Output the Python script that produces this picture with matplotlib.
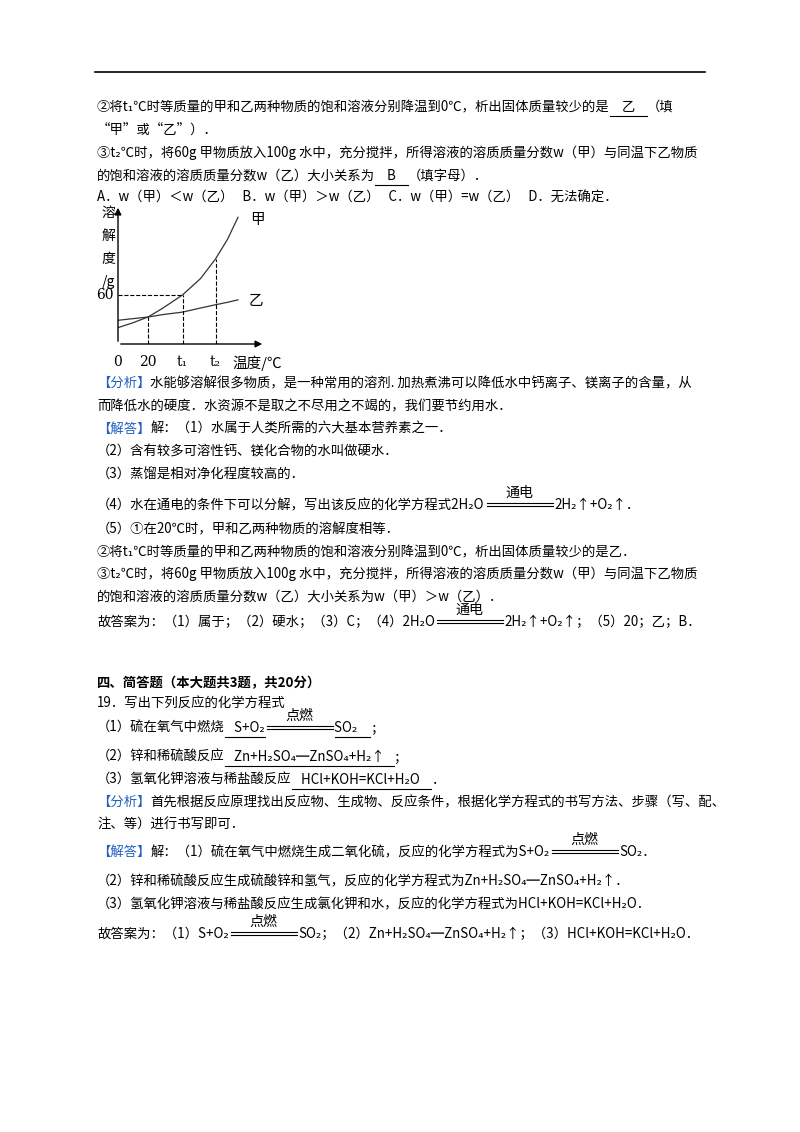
import matplotlib
matplotlib.use("Agg")
import matplotlib.pyplot as plt
from matplotlib.lines import Line2D

plt.rcParams['font.family'] = ['Noto Sans CJK SC', 'DejaVu Sans']
W, H = 800, 1132
fig = plt.figure(figsize=(8, 11.32), dpi=100)
R = fig.canvas.get_renderer()
FS = 9.6
BLUE = '#1f5fbf'

# solubility curve data (x: 0, 20, t1, t2, end)
temp = [0, 10, 20, 30, 43, 55, 65, 73, 80]
jia = [20, 26, 33, 44, 60, 80, 104, 128, 155]
yi = [29, 31, 33, 36, 39, 44, 48, 51, 54]
xticks = [0, 20, 43, 65]
xlabels = ['0', '20', 't₁', 't₂']


def fx(x):
    return x / W


def fy(y):
    return 1 - y / H


def hline(x0, x1, y, lw=0.8, c='k'):
    fig.add_artist(Line2D([fx(x0), fx(x1)], [fy(y), fy(y)], lw=lw, color=c))


def seq(x, y, parts):
    # parts: str, ('u', str) underlined, ('b', str) blue, ('c', cond) condition sign, ('B', str) bold
    for p in parts:
        if isinstance(p, str):
            kind, s = 'n', p
        else:
            kind, s = p
        if kind == 'c':
            w = 70
            hline(x + 2, x + w - 2, y - 2)
            hline(x + 2, x + w - 2, y + 1)
            fig.text(fx(x + w / 2), fy(y - 12), s, fontsize=FS + 0.5, ha='center', va='center')
            x += w
            continue
        t = fig.text(fx(x), fy(y), s, fontsize=FS, va='center',
                     color=BLUE if kind == 'b' else 'k',
                     fontweight='bold' if kind == 'B' else 'normal')
        w = t.get_window_extent(R).width
        if kind == 'u':
            hline(x, x + w, y + 9)
        x += w
    return x


hline(95, 705, 72, lw=1.2)
L = 97
seq(L, 107, ['②将t₁℃时等质量的甲和乙两种物质的饱和溶液分别降温到0℃，析出固体质量较少的是', ('u', '    乙    '), '（填'])
seq(L, 130, ['“甲”或“乙”）．'])
seq(L, 153, ['③t₂℃时，将60g 甲物质放入100g 水中，充分搅拌，所得溶液的溶质质量分数w（甲）与同温下乙物质'])
seq(L, 176, ['的饱和溶液的溶质质量分数w（乙）大小关系为', ('u', '    B    '), '（填字母）．'])
seq(L, 198, ['A．w（甲）＜w（乙）   B．w（甲）＞w（乙）   C．w（甲）=w（乙）   D．无法确定．'])

# chart
ax = fig.add_axes([fx(118), fy(344), (265 - 118) / W, (344 - 205) / H])
ax.plot(temp, jia, color='#333333', lw=0.9)
ax.plot(temp, yi, color='#333333', lw=0.9)
ax.set_xlim(0, 98)
ax.set_ylim(0, 170)
for s in ['top', 'right', 'left', 'bottom']:
    ax.spines[s].set_visible(False)
ax.annotate('', xy=(98, 0), xytext=(0, 0), xycoords='data',
            arrowprops=dict(arrowstyle='-|>', lw=1, color='k'), annotation_clip=False)
ax.annotate('', xy=(0, 170), xytext=(0, 0), xycoords='data',
            arrowprops=dict(arrowstyle='-|>', lw=1, color='k'), annotation_clip=False)
ax.plot([0, 43], [60, 60], 'k--', lw=0.8)
ax.plot([20, 20], [0, 33], 'k--', lw=0.8)
ax.plot([43, 43], [0, 60], 'k--', lw=0.8)
ax.plot([65, 65], [0, 104], 'k--', lw=0.8)
ax.set_xticks([])
ax.set_yticks([])
for xv, lb in zip(xticks, xlabels):
    ax.text(xv, -14, lb, ha='center', va='top', fontsize=10, family='DejaVu Serif')
ax.text(-3, 60, '60', ha='right', va='center', fontsize=10, family='DejaVu Serif')
ax.text(88, 152, '甲', fontsize=10.5, va='center')
ax.text(87, 53, '乙', fontsize=10.5, va='center')
ax.text(76, -14, '温度/℃', fontsize=10.5, va='top')
for i, ch in enumerate(['溶', '解', '度', '/g']):
    fig.text(fx(115), fy(213 + i * 23), ch, fontsize=10, ha='right', va='center')

seq(L, 383, [('b', '【分析】'), '水能够溶解很多物质，是一种常用的溶剂. 加热煮沸可以降低水中钙离子、镁离子的含量，从'])
seq(L, 406, ['而降低水的硬度．水资源不是取之不尽用之不竭的，我们要节约用水．'])
seq(L, 429, [('b', '【解答】'), '解：（1）水属于人类所需的六大基本营养素之一．'])
seq(L, 452, ['（2）含有较多可溶性钙、镁化合物的水叫做硬水．'])
seq(L, 475, ['（3）蒸馏是相对净化程度较高的．'])
seq(L, 505, ['（4）水在通电的条件下可以分解，写出该反应的化学方程式2H₂O', ('c', '通电'), '2H₂↑+O₂↑．'])
seq(L, 529, ['（5）①在20℃时，甲和乙两种物质的溶解度相等．'])
seq(L, 552, ['②将t₁℃时等质量的甲和乙两种物质的饱和溶液分别降温到0℃，析出固体质量较少的是乙．'])
seq(L, 574, ['③t₂℃时，将60g 甲物质放入100g 水中，充分搅拌，所得溶液的溶质质量分数w（甲）与同温下乙物质'])
seq(L, 597, ['的饱和溶液的溶质质量分数w（乙）大小关系为w（甲）＞w（乙）．'])
seq(L, 622, ['故答案为：（1）属于；（2）硬水；（3）C；（4）2H₂O', ('c', '通电'), '2H₂↑+O₂↑；（5）20；乙；B．'])

seq(L, 683, [('B', '四、简答题（本大题共3题，共20分）')])
seq(L, 704, ['19．写出下列反应的化学方程式'])
seq(L, 728, ['（1）硫在氧气中燃烧', ('u', '   S+O₂'), ('c', '点燃'), ('u', 'SO₂    '), '；'])
seq(L, 757, ['（2）锌和稀硫酸反应', ('u', '   Zn+H₂SO₄═ZnSO₄+H₂↑   '), '；'])
seq(L, 780, ['（3）氢氧化钾溶液与稀盐酸反应', ('u', '   HCl+KOH=KCl+H₂O    '), '．'])
seq(L, 802, [('b', '【分析】'), '首先根据反应原理找出反应物、生成物、反应条件，根据化学方程式的书写方法、步骤（写、配、'])
seq(L, 825, ['注、等）进行书写即可．'])
seq(L, 852, [('b', '【解答】'), '解：（1）硫在氧气中燃烧生成二氧化硫，反应的化学方程式为S+O₂', ('c', '点燃'), 'SO₂．'])
seq(L, 881, ['（2）锌和稀硫酸反应生成硫酸锌和氢气，反应的化学方程式为Zn+H₂SO₄═ZnSO₄+H₂↑．'])
seq(L, 904, ['（3）氢氧化钾溶液与稀盐酸反应生成氯化钾和水，反应的化学方程式为HCl+KOH=KCl+H₂O．'])
seq(L, 934, ['故答案为：（1）S+O₂', ('c', '点燃'), 'SO₂；（2）Zn+H₂SO₄═ZnSO₄+H₂↑；（3）HCl+KOH=KCl+H₂O．'])

fig.savefig('out.png', dpi=100)
